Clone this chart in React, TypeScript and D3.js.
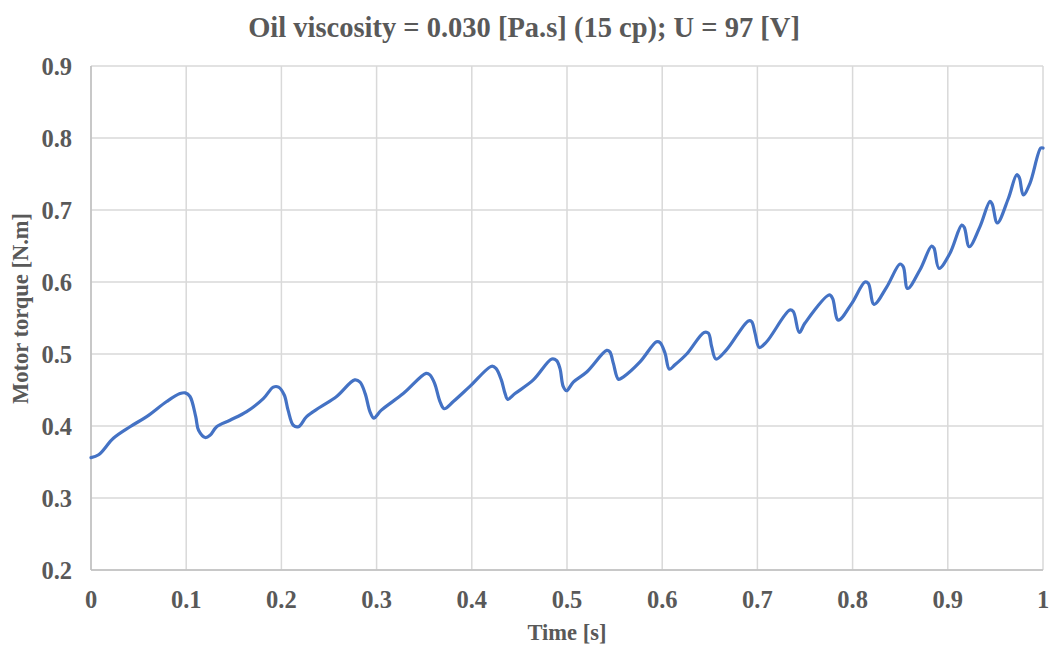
import React from "react";
import * as d3 from "d3";

const timeS = [0, 0.008, 0.0235, 0.041, 0.0585, 0.0795, 0.0935, 0.099, 0.104, 0.110, 0.113, 0.120, 0.125, 0.132, 0.146, 0.1635, 0.181, 0.1915, 0.197, 0.203, 0.207, 0.2125, 0.218, 0.2265, 0.2405, 0.258, 0.277, 0.2826, 0.288, 0.293, 0.297, 0.305, 0.328, 0.352, 0.356, 0.361, 0.3666, 0.371, 0.3806, 0.398, 0.421, 0.4254, 0.431, 0.435, 0.4377, 0.4454, 0.4646, 0.484, 0.489, 0.4926, 0.496, 0.4995, 0.5066, 0.5207, 0.5417, 0.545, 0.5487, 0.554, 0.559, 0.5767, 0.594, 0.5977, 0.603, 0.6075, 0.6134, 0.6257, 0.644, 0.6485, 0.652, 0.6565, 0.6677, 0.6905, 0.694, 0.6975, 0.702, 0.7097, 0.734, 0.7377, 0.744, 0.750, 0.7756, 0.779, 0.785, 0.799, 0.813, 0.8166, 0.8225, 0.8358, 0.8498, 0.8533, 0.8578, 0.8708, 0.883, 0.8855, 0.8908, 0.9023, 0.9146, 0.9173, 0.9226, 0.9338, 0.9443, 0.9467, 0.952, 0.9636, 0.9724, 0.9751, 0.9793, 0.9863, 0.9976, 1.0];
const torqueNm = [0.356, 0.360, 0.383, 0.399, 0.413, 0.434, 0.445, 0.446, 0.441, 0.413, 0.394, 0.384, 0.387, 0.399, 0.408, 0.420, 0.438, 0.454, 0.454, 0.443, 0.422, 0.401, 0.399, 0.413, 0.426, 0.441, 0.464, 0.461, 0.445, 0.420, 0.411, 0.422, 0.445, 0.473, 0.471, 0.459, 0.434, 0.424, 0.434, 0.455, 0.483, 0.480, 0.464, 0.445, 0.437, 0.445, 0.464, 0.493, 0.491, 0.480, 0.455, 0.449, 0.461, 0.475, 0.505, 0.503, 0.487, 0.465, 0.468, 0.489, 0.517, 0.516, 0.501, 0.479, 0.485, 0.500, 0.530, 0.529, 0.510, 0.493, 0.506, 0.546, 0.545, 0.529, 0.509, 0.517, 0.561, 0.559, 0.530, 0.543, 0.582, 0.577, 0.547, 0.570, 0.600, 0.598, 0.569, 0.593, 0.625, 0.621, 0.591, 0.617, 0.650, 0.647, 0.619, 0.640, 0.679, 0.676, 0.649, 0.677, 0.712, 0.708, 0.682, 0.716, 0.749, 0.745, 0.721, 0.737, 0.786, 0.786];

const xTicks = [0, 0.1, 0.2, 0.3, 0.4, 0.5, 0.6, 0.7, 0.8, 0.9, 1];
const xTickLabels = ["0", "0.1", "0.2", "0.3", "0.4", "0.5", "0.6", "0.7", "0.8", "0.9", "1"];
const yTicks = [0.2, 0.3, 0.4, 0.5, 0.6, 0.7, 0.8, 0.9];
const yTickLabels = ["0.2", "0.3", "0.4", "0.5", "0.6", "0.7", "0.8", "0.9"];

const titleText = "Oil viscosity = 0.030 [Pa.s] (15 cp); U = 97 [V]";
const xAxisTitle = "Time [s]";
const yAxisTitle = "Motor torque [N.m]";

export default function App() {
  const W = 1053, H = 646;
  const left = 91, right = 1043, top = 66, bottom = 570;
  const x = d3.scaleLinear().domain([0, 1]).range([left, right]);
  const y = d3.scaleLinear().domain([0.2, 0.9]).range([bottom, top]);
  const pts = timeS.map((t, i) => [t, torqueNm[i]] as [number, number]);
  const line = d3.line<[number, number]>().x(d => x(d[0])).y(d => y(d[1])).curve(d3.curveCatmullRom.alpha(0.5));
  const font = "'Liberation Serif', 'Times New Roman', serif";
  const textColor = "#595959";
  return (
    <svg width={W} height={H} style={{ position: "absolute", left: 0, top: 0, background: "#fff" }}>
      <rect x={0} y={0} width={W} height={H} fill="#fff" />
      {xTicks.map((t, i) => (
        <line key={"gx" + i} x1={x(t)} x2={x(t)} y1={top} y2={bottom} stroke="#d9d9d9" strokeWidth={1.5} />
      ))}
      {yTicks.map((t, i) => (
        <line key={"gy" + i} x1={left} x2={right} y1={y(t)} y2={y(t)} stroke="#d9d9d9" strokeWidth={1.5} />
      ))}
      <line x1={left} x2={left} y1={top} y2={bottom} stroke="#bfbfbf" strokeWidth={1.5} />
      <line x1={left} x2={right} y1={bottom} y2={bottom} stroke="#bfbfbf" strokeWidth={1.5} />
      <path d={line(pts) || ""} fill="none" stroke="#4472C4" strokeWidth={3.2} strokeLinejoin="round" strokeLinecap="round" />
      {yTicks.map((t, i) => (
        <text key={"ty" + i} x={72} y={y(t)} dy="0.35em" textAnchor="end" fontFamily={font} fontWeight="bold" fontSize={24.5} fill={textColor}>{yTickLabels[i]}</text>
      ))}
      {xTicks.map((t, i) => (
        <text key={"tx" + i} x={x(t)} y={599} dy="0.35em" textAnchor="middle" fontFamily={font} fontWeight="bold" fontSize={24.5} fill={textColor}>{xTickLabels[i]}</text>
      ))}
      <text x={524} y={27} dy="0.35em" textAnchor="middle" fontFamily={font} fontWeight="bold" fontSize={28.5} fill={textColor}>{titleText}</text>
      <text x={567} y={632} dy="0.35em" textAnchor="middle" fontFamily={font} fontWeight="bold" fontSize={22.5} fill={textColor}>{xAxisTitle}</text>
      <text transform="translate(20,308.5) rotate(-90)" dy="0.35em" textAnchor="middle" fontFamily={font} fontWeight="bold" fontSize={22.5} fill={textColor}>{yAxisTitle}</text>
    </svg>
  );
}
